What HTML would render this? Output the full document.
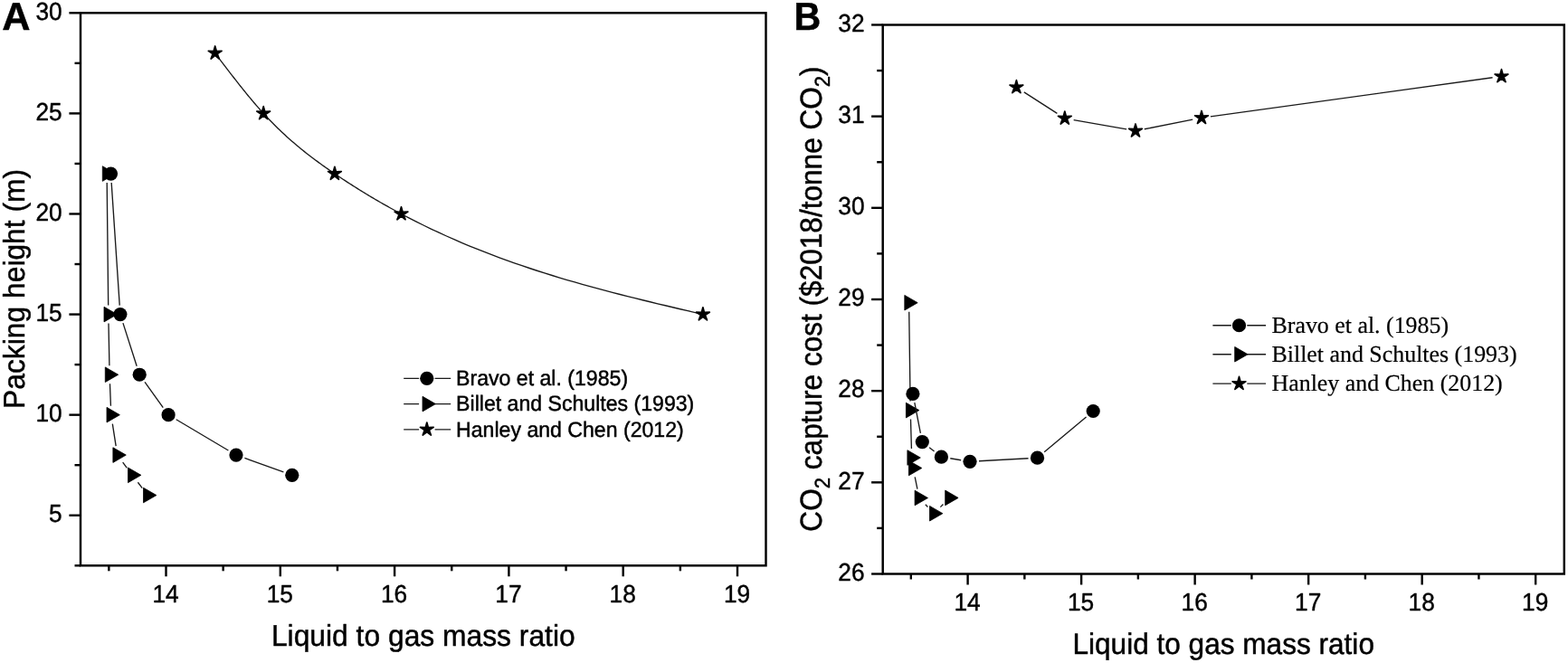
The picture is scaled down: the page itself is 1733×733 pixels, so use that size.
<!DOCTYPE html>
<html lang="en">
<head>
<meta charset="utf-8">
<title>Packing height and CO2 capture cost vs liquid to gas mass ratio</title>
<style>
html,body{margin:0;padding:0;background:#fff;}
body{width:1733px;height:733px;overflow:hidden;}
svg{display:block;}
text{text-rendering:geometricPrecision;fill:#000;stroke:#000;stroke-width:0.45;stroke-linejoin:round;}
text.lt{stroke-width:0.2;}
</style>
</head>
<body>
<svg width="1733" height="733" viewBox="0 0 1733 733">
<rect x="0" y="0" width="1733" height="733" fill="#ffffff"/>
<rect x="89.00" y="14.30" width="757.50" height="611.00" fill="none" stroke="#000" stroke-width="2.45"/>
<line x1="183.50" y1="625.30" x2="183.50" y2="637.30" stroke="#000" stroke-width="2.40"/>
<line x1="309.80" y1="625.30" x2="309.80" y2="637.30" stroke="#000" stroke-width="2.40"/>
<line x1="436.10" y1="625.30" x2="436.10" y2="637.30" stroke="#000" stroke-width="2.40"/>
<line x1="562.40" y1="625.30" x2="562.40" y2="637.30" stroke="#000" stroke-width="2.40"/>
<line x1="688.70" y1="625.30" x2="688.70" y2="637.30" stroke="#000" stroke-width="2.40"/>
<line x1="815.00" y1="625.30" x2="815.00" y2="637.30" stroke="#000" stroke-width="2.40"/>
<line x1="120.35" y1="625.30" x2="120.35" y2="631.30" stroke="#000" stroke-width="2.40"/>
<line x1="246.65" y1="625.30" x2="246.65" y2="631.30" stroke="#000" stroke-width="2.40"/>
<line x1="372.95" y1="625.30" x2="372.95" y2="631.30" stroke="#000" stroke-width="2.40"/>
<line x1="499.25" y1="625.30" x2="499.25" y2="631.30" stroke="#000" stroke-width="2.40"/>
<line x1="625.55" y1="625.30" x2="625.55" y2="631.30" stroke="#000" stroke-width="2.40"/>
<line x1="751.85" y1="625.30" x2="751.85" y2="631.30" stroke="#000" stroke-width="2.40"/>
<line x1="76.40" y1="569.75" x2="89.00" y2="569.75" stroke="#000" stroke-width="2.40"/>
<line x1="76.40" y1="458.66" x2="89.00" y2="458.66" stroke="#000" stroke-width="2.40"/>
<line x1="76.40" y1="347.57" x2="89.00" y2="347.57" stroke="#000" stroke-width="2.40"/>
<line x1="76.40" y1="236.48" x2="89.00" y2="236.48" stroke="#000" stroke-width="2.40"/>
<line x1="76.40" y1="125.39" x2="89.00" y2="125.39" stroke="#000" stroke-width="2.40"/>
<line x1="76.40" y1="14.30" x2="89.00" y2="14.30" stroke="#000" stroke-width="2.40"/>
<line x1="82.50" y1="625.30" x2="89.00" y2="625.30" stroke="#000" stroke-width="2.40"/>
<line x1="82.50" y1="514.21" x2="89.00" y2="514.21" stroke="#000" stroke-width="2.40"/>
<line x1="82.50" y1="403.12" x2="89.00" y2="403.12" stroke="#000" stroke-width="2.40"/>
<line x1="82.50" y1="292.03" x2="89.00" y2="292.03" stroke="#000" stroke-width="2.40"/>
<line x1="82.50" y1="180.94" x2="89.00" y2="180.94" stroke="#000" stroke-width="2.40"/>
<line x1="82.50" y1="69.85" x2="89.00" y2="69.85" stroke="#000" stroke-width="2.40"/>
<text x="0.00" y="0.00" font-size="27.50" text-anchor="middle" font-weight="normal" style="font-family:&quot;Liberation Sans&quot;, Arial, sans-serif"  transform="translate(183.00,665.60) scale(0.9550,1.0000)">14</text>
<text x="0.00" y="0.00" font-size="27.50" text-anchor="middle" font-weight="normal" style="font-family:&quot;Liberation Sans&quot;, Arial, sans-serif"  transform="translate(309.30,665.60) scale(0.9550,1.0000)">15</text>
<text x="0.00" y="0.00" font-size="27.50" text-anchor="middle" font-weight="normal" style="font-family:&quot;Liberation Sans&quot;, Arial, sans-serif"  transform="translate(435.60,665.60) scale(0.9550,1.0000)">16</text>
<text x="0.00" y="0.00" font-size="27.50" text-anchor="middle" font-weight="normal" style="font-family:&quot;Liberation Sans&quot;, Arial, sans-serif"  transform="translate(561.90,665.60) scale(0.9550,1.0000)">17</text>
<text x="0.00" y="0.00" font-size="27.50" text-anchor="middle" font-weight="normal" style="font-family:&quot;Liberation Sans&quot;, Arial, sans-serif"  transform="translate(688.20,665.60) scale(0.9550,1.0000)">18</text>
<text x="0.00" y="0.00" font-size="27.50" text-anchor="middle" font-weight="normal" style="font-family:&quot;Liberation Sans&quot;, Arial, sans-serif"  transform="translate(814.50,665.60) scale(0.9550,1.0000)">19</text>
<text x="0.00" y="0.00" font-size="27.50" text-anchor="end" font-weight="normal" style="font-family:&quot;Liberation Sans&quot;, Arial, sans-serif"  transform="translate(68.70,577.35) scale(0.9550,1.0000)">5</text>
<text x="0.00" y="0.00" font-size="27.50" text-anchor="end" font-weight="normal" style="font-family:&quot;Liberation Sans&quot;, Arial, sans-serif"  transform="translate(68.70,466.26) scale(0.9550,1.0000)">10</text>
<text x="0.00" y="0.00" font-size="27.50" text-anchor="end" font-weight="normal" style="font-family:&quot;Liberation Sans&quot;, Arial, sans-serif"  transform="translate(68.70,355.17) scale(0.9550,1.0000)">15</text>
<text x="0.00" y="0.00" font-size="27.50" text-anchor="end" font-weight="normal" style="font-family:&quot;Liberation Sans&quot;, Arial, sans-serif"  transform="translate(68.70,244.08) scale(0.9550,1.0000)">20</text>
<text x="0.00" y="0.00" font-size="27.50" text-anchor="end" font-weight="normal" style="font-family:&quot;Liberation Sans&quot;, Arial, sans-serif"  transform="translate(68.70,132.99) scale(0.9550,1.0000)">25</text>
<text x="0.00" y="0.00" font-size="27.50" text-anchor="end" font-weight="normal" style="font-family:&quot;Liberation Sans&quot;, Arial, sans-serif"  transform="translate(68.70,21.90) scale(0.9550,1.0000)">30</text>
<text x="0.00" y="0.00" font-size="31.80" text-anchor="middle" font-weight="normal" style="font-family:&quot;Liberation Sans&quot;, Arial, sans-serif"  transform="translate(467.80,714.10) scale(1.0000,1.0400)">Liquid to gas mass ratio</text>
<g transform="translate(27.00,319.40) rotate(-90) scale(1,1.040)">
<text x="0.00" y="0.00" font-size="31.80" text-anchor="middle" font-weight="normal" style="font-family:&quot;Liberation Sans&quot;, Arial, sans-serif" >Packing height (m)</text>
</g>
<text x="2.20" y="32.90" font-size="43.30" text-anchor="start" font-weight="bold" style="font-family:&quot;Liberation Sans&quot;, Arial, sans-serif" >A</text>
<path d="M118.21 202.04L119.69 337.57M119.99 357.57L120.91 404.23M121.48 424.22L122.42 448.67M124.33 468.55L128.17 493.22M135.69 511.11L140.31 517.31M152.38 533.26L157.22 539.59" fill="none" stroke="#1a1a1a" stroke-width="1.35"/>
<g fill="#000"><polygon points="113.30,183.74 113.30,200.35 127.69,192.05" stroke="#000" stroke-width="0.80" stroke-linejoin="round"/><polygon points="115.00,339.27 115.00,355.88 129.39,347.57" stroke="#000" stroke-width="0.80" stroke-linejoin="round"/><polygon points="116.30,405.92 116.30,422.53 130.69,414.23" stroke="#000" stroke-width="0.80" stroke-linejoin="round"/><polygon points="118.00,450.36 118.00,466.97 132.39,458.66" stroke="#000" stroke-width="0.80" stroke-linejoin="round"/><polygon points="124.90,494.79 124.90,511.41 139.29,503.10" stroke="#000" stroke-width="0.80" stroke-linejoin="round"/><polygon points="141.50,517.01 141.50,533.63 155.89,525.32" stroke="#000" stroke-width="0.80" stroke-linejoin="round"/><polygon points="158.50,539.23 158.50,555.84 172.89,547.54" stroke="#000" stroke-width="0.80" stroke-linejoin="round"/></g>
<path d="M123.17 202.02L132.23 337.60M135.94 357.10L151.16 404.70M160.03 422.35L180.27 450.54M194.70 463.77L252.40 498.00M270.41 506.48L313.39 521.94" fill="none" stroke="#1a1a1a" stroke-width="1.35"/>
<g fill="#000"><circle cx="122.50" cy="192.05" r="7.60"/><circle cx="132.90" cy="347.57" r="7.60"/><circle cx="154.20" cy="414.23" r="7.60"/><circle cx="186.10" cy="458.66" r="7.60"/><circle cx="261.00" cy="503.10" r="7.60"/><circle cx="322.80" cy="525.32" r="7.60"/></g>
<path d="M237.70 58.74L239.04 60.50L240.38 62.27L241.71 64.03L243.05 65.80L244.39 67.56L245.72 69.32L247.06 71.08L248.40 72.84L249.74 74.59L251.07 76.34L252.41 78.09L253.75 79.83L255.09 81.56L256.43 83.30L257.76 85.02L259.10 86.74L260.44 88.46L261.77 90.17L263.11 91.87L264.45 93.57L265.79 95.25L267.12 96.93L268.46 98.61L269.80 100.27L271.14 101.92L272.47 103.57L273.81 105.20L275.15 106.83L276.49 108.44L277.82 110.04L279.16 111.63L280.50 113.21L281.84 114.78L283.18 116.34L284.51 117.88L285.85 119.41L287.19 120.93L288.52 122.43L289.86 123.92L291.20 125.39L293.17 127.53L295.13 129.64L297.10 131.72L299.07 133.76L301.04 135.78L303.00 137.77L304.97 139.72L306.94 141.65L308.91 143.55L310.88 145.43L312.84 147.28L314.81 149.10L316.78 150.90L318.75 152.67L320.71 154.42L322.68 156.14L324.65 157.84L326.62 159.52L328.58 161.18L330.55 162.82L332.52 164.43L334.48 166.03L336.45 167.61L338.42 169.16L340.39 170.70L342.35 172.23L344.32 173.73L346.29 175.22L348.26 176.70L350.22 178.15L352.19 179.60L354.16 181.03L356.13 182.45L358.09 183.85L360.06 185.24L362.03 186.62L364.00 187.99L365.96 189.35L367.93 190.70L369.90 192.05L371.74 193.29L373.58 194.53L375.42 195.76L377.26 196.99L379.10 198.20L380.94 199.41L382.78 200.62L384.62 201.81L386.46 203.00L388.30 204.18L390.14 205.36L391.98 206.52L393.82 207.68L395.66 208.84L397.50 209.98L399.34 211.12L401.18 212.26L403.02 213.38L404.86 214.50L406.70 215.61L408.54 216.72L410.38 217.82L412.22 218.91L414.06 219.99L415.90 221.07L417.74 222.14L419.58 223.21L421.42 224.27L423.26 225.32L425.10 226.37L426.94 227.41L428.78 228.44L430.62 229.47L432.46 230.49L434.30 231.50L436.14 232.51L437.98 233.51L439.82 234.51L441.66 235.50L443.50 236.48L451.83 240.86L460.17 245.12L468.50 249.26L476.84 253.28L485.18 257.19L493.51 261.00L501.84 264.69L510.18 268.29L518.51 271.78L526.85 275.18L535.18 278.48L543.52 281.69L551.86 284.82L560.19 287.86L568.52 290.82L576.86 293.70L585.19 296.51L593.53 299.24L601.87 301.91L610.20 304.51L618.53 307.05L626.87 309.53L635.20 311.95L643.54 314.32L651.88 316.64L660.21 318.91L668.54 321.14L676.88 323.33L685.21 325.48L693.55 327.60L701.88 329.69L710.22 331.75L718.55 333.78L726.89 335.79L735.23 337.78L743.56 339.76L751.89 341.72L760.23 343.68L768.56 345.63L776.90 347.57" fill="none" stroke="#1a1a1a" stroke-width="1.35"/>
<g fill="#000"><polygon points="237.70,50.99 239.27,56.57 245.07,56.34 240.24,59.56 242.26,65.01 237.70,61.41 233.14,65.01 235.16,59.56 230.33,56.34 236.13,56.57" stroke="#000" stroke-width="1.70" stroke-linejoin="round"/><polygon points="291.20,117.64 292.77,123.23 298.57,123.00 293.74,126.22 295.76,131.66 291.20,128.06 286.64,131.66 288.66,126.22 283.83,123.00 289.63,123.23" stroke="#000" stroke-width="1.70" stroke-linejoin="round"/><polygon points="369.90,184.30 371.47,189.88 377.27,189.65 372.44,192.87 374.46,198.32 369.90,194.72 365.34,198.32 367.36,192.87 362.53,189.65 368.33,189.88" stroke="#000" stroke-width="1.70" stroke-linejoin="round"/><polygon points="443.50,228.73 445.07,234.32 450.87,234.09 446.04,237.31 448.06,242.75 443.50,239.16 438.94,242.75 440.96,237.31 436.13,234.09 441.93,234.32" stroke="#000" stroke-width="1.70" stroke-linejoin="round"/><polygon points="776.90,339.82 778.47,345.41 784.27,345.18 779.44,348.40 781.46,353.84 776.90,350.25 772.34,353.84 774.36,348.40 769.53,345.18 775.33,345.41" stroke="#000" stroke-width="1.70" stroke-linejoin="round"/></g>
<path d="M446.20 418.30H463.10M480.60 418.30H498.20" fill="none" stroke="#1a1a1a" stroke-width="1.35"/>
<g fill="#000"><circle cx="471.80" cy="418.30" r="7.60"/></g>
<text x="0.00" y="0.00" font-size="23.10" text-anchor="start" font-weight="normal" style="font-family:&quot;Liberation Sans&quot;, Arial, sans-serif"  transform="translate(504.10,426.00) scale(1.0000,1.0300)">Bravo et al. (1985)</text>
<path d="M446.20 446.60H463.10M480.60 446.60H498.20" fill="none" stroke="#1a1a1a" stroke-width="1.35"/>
<g fill="#000"><polygon points="467.00,438.29 467.00,454.91 481.39,446.60" stroke="#000" stroke-width="0.80" stroke-linejoin="round"/></g>
<text x="0.00" y="0.00" font-size="23.10" text-anchor="start" font-weight="normal" style="font-family:&quot;Liberation Sans&quot;, Arial, sans-serif"  transform="translate(504.10,454.00) scale(1.0000,1.0300)">Billet and Schultes (1993)</text>
<path d="M446.20 474.80H463.10M480.60 474.80H498.20" fill="none" stroke="#1a1a1a" stroke-width="1.35"/>
<g fill="#000"><polygon points="471.80,467.05 473.37,472.64 479.17,472.41 474.34,475.63 476.36,481.07 471.80,477.47 467.24,481.07 469.26,475.63 464.43,472.41 470.23,472.64" stroke="#000" stroke-width="1.70" stroke-linejoin="round"/></g>
<text x="0.00" y="0.00" font-size="23.10" text-anchor="start" font-weight="normal" style="font-family:&quot;Liberation Sans&quot;, Arial, sans-serif"  transform="translate(504.10,483.00) scale(1.0000,1.0300)">Hanley and Chen (2012)</text>
<rect x="975.70" y="27.50" width="753.10" height="607.00" fill="none" stroke="#000" stroke-width="2.45"/>
<line x1="1069.59" y1="634.50" x2="1069.59" y2="646.50" stroke="#000" stroke-width="2.40"/>
<line x1="1195.11" y1="634.50" x2="1195.11" y2="646.50" stroke="#000" stroke-width="2.40"/>
<line x1="1320.63" y1="634.50" x2="1320.63" y2="646.50" stroke="#000" stroke-width="2.40"/>
<line x1="1446.15" y1="634.50" x2="1446.15" y2="646.50" stroke="#000" stroke-width="2.40"/>
<line x1="1571.67" y1="634.50" x2="1571.67" y2="646.50" stroke="#000" stroke-width="2.40"/>
<line x1="1697.19" y1="634.50" x2="1697.19" y2="646.50" stroke="#000" stroke-width="2.40"/>
<line x1="1006.83" y1="634.50" x2="1006.83" y2="640.50" stroke="#000" stroke-width="2.40"/>
<line x1="1132.35" y1="634.50" x2="1132.35" y2="640.50" stroke="#000" stroke-width="2.40"/>
<line x1="1257.87" y1="634.50" x2="1257.87" y2="640.50" stroke="#000" stroke-width="2.40"/>
<line x1="1383.39" y1="634.50" x2="1383.39" y2="640.50" stroke="#000" stroke-width="2.40"/>
<line x1="1508.91" y1="634.50" x2="1508.91" y2="640.50" stroke="#000" stroke-width="2.40"/>
<line x1="1634.43" y1="634.50" x2="1634.43" y2="640.50" stroke="#000" stroke-width="2.40"/>
<line x1="963.10" y1="634.50" x2="975.70" y2="634.50" stroke="#000" stroke-width="2.40"/>
<line x1="963.10" y1="533.33" x2="975.70" y2="533.33" stroke="#000" stroke-width="2.40"/>
<line x1="963.10" y1="432.16" x2="975.70" y2="432.16" stroke="#000" stroke-width="2.40"/>
<line x1="963.10" y1="330.99" x2="975.70" y2="330.99" stroke="#000" stroke-width="2.40"/>
<line x1="963.10" y1="229.82" x2="975.70" y2="229.82" stroke="#000" stroke-width="2.40"/>
<line x1="963.10" y1="128.65" x2="975.70" y2="128.65" stroke="#000" stroke-width="2.40"/>
<line x1="963.10" y1="27.48" x2="975.70" y2="27.48" stroke="#000" stroke-width="2.40"/>
<line x1="969.20" y1="583.91" x2="975.70" y2="583.91" stroke="#000" stroke-width="2.40"/>
<line x1="969.20" y1="482.75" x2="975.70" y2="482.75" stroke="#000" stroke-width="2.40"/>
<line x1="969.20" y1="381.57" x2="975.70" y2="381.57" stroke="#000" stroke-width="2.40"/>
<line x1="969.20" y1="280.40" x2="975.70" y2="280.40" stroke="#000" stroke-width="2.40"/>
<line x1="969.20" y1="179.24" x2="975.70" y2="179.24" stroke="#000" stroke-width="2.40"/>
<line x1="969.20" y1="78.06" x2="975.70" y2="78.06" stroke="#000" stroke-width="2.40"/>
<text x="0.00" y="0.00" font-size="27.50" text-anchor="middle" font-weight="normal" style="font-family:&quot;Liberation Sans&quot;, Arial, sans-serif"  transform="translate(1069.09,675.00) scale(0.9550,1.0000)">14</text>
<text x="0.00" y="0.00" font-size="27.50" text-anchor="middle" font-weight="normal" style="font-family:&quot;Liberation Sans&quot;, Arial, sans-serif"  transform="translate(1194.61,675.00) scale(0.9550,1.0000)">15</text>
<text x="0.00" y="0.00" font-size="27.50" text-anchor="middle" font-weight="normal" style="font-family:&quot;Liberation Sans&quot;, Arial, sans-serif"  transform="translate(1320.13,675.00) scale(0.9550,1.0000)">16</text>
<text x="0.00" y="0.00" font-size="27.50" text-anchor="middle" font-weight="normal" style="font-family:&quot;Liberation Sans&quot;, Arial, sans-serif"  transform="translate(1445.65,675.00) scale(0.9550,1.0000)">17</text>
<text x="0.00" y="0.00" font-size="27.50" text-anchor="middle" font-weight="normal" style="font-family:&quot;Liberation Sans&quot;, Arial, sans-serif"  transform="translate(1571.17,675.00) scale(0.9550,1.0000)">18</text>
<text x="0.00" y="0.00" font-size="27.50" text-anchor="middle" font-weight="normal" style="font-family:&quot;Liberation Sans&quot;, Arial, sans-serif"  transform="translate(1696.69,675.00) scale(0.9550,1.0000)">19</text>
<text x="0.00" y="0.00" font-size="27.50" text-anchor="end" font-weight="normal" style="font-family:&quot;Liberation Sans&quot;, Arial, sans-serif"  transform="translate(955.50,641.80) scale(0.9550,1.0000)">26</text>
<text x="0.00" y="0.00" font-size="27.50" text-anchor="end" font-weight="normal" style="font-family:&quot;Liberation Sans&quot;, Arial, sans-serif"  transform="translate(955.50,540.63) scale(0.9550,1.0000)">27</text>
<text x="0.00" y="0.00" font-size="27.50" text-anchor="end" font-weight="normal" style="font-family:&quot;Liberation Sans&quot;, Arial, sans-serif"  transform="translate(955.50,439.46) scale(0.9550,1.0000)">28</text>
<text x="0.00" y="0.00" font-size="27.50" text-anchor="end" font-weight="normal" style="font-family:&quot;Liberation Sans&quot;, Arial, sans-serif"  transform="translate(955.50,338.29) scale(0.9550,1.0000)">29</text>
<text x="0.00" y="0.00" font-size="27.50" text-anchor="end" font-weight="normal" style="font-family:&quot;Liberation Sans&quot;, Arial, sans-serif"  transform="translate(955.50,237.12) scale(0.9550,1.0000)">30</text>
<text x="0.00" y="0.00" font-size="27.50" text-anchor="end" font-weight="normal" style="font-family:&quot;Liberation Sans&quot;, Arial, sans-serif"  transform="translate(955.50,135.95) scale(0.9550,1.0000)">31</text>
<text x="0.00" y="0.00" font-size="27.50" text-anchor="end" font-weight="normal" style="font-family:&quot;Liberation Sans&quot;, Arial, sans-serif"  transform="translate(955.50,34.78) scale(0.9550,1.0000)">32</text>
<text x="0.00" y="0.00" font-size="31.59" text-anchor="middle" font-weight="normal" style="font-family:&quot;Liberation Sans&quot;, Arial, sans-serif"  transform="translate(1352.20,723.30) scale(1.0000,1.0400)">Liquid to gas mass ratio</text>
<g transform="translate(908.30,330.50) rotate(-90) scale(1,1.065)">
<text x="0" y="0" font-size="31.59" text-anchor="middle" style="font-family:&quot;Liberation Sans&quot;, Arial, sans-serif">CO<tspan font-size="22.11" dy="7.80">2</tspan><tspan dy="-7.80"> capture cost ($2018/tonne CO</tspan><tspan font-size="22.11" dy="7.80">2</tspan><tspan dy="-7.80">)</tspan></text>
</g>
<text x="0.00" y="0.00" font-size="43.30" text-anchor="start" font-weight="bold" style="font-family:&quot;Liberation Sans&quot;, Arial, sans-serif"  transform="translate(877.50,33.30) scale(0.9500,1.0000)">B</text>
<path d="M1004.73 344.70L1006.07 443.60M1006.49 463.60L1007.41 496.00M1011.19 527.30L1013.91 540.70M1022.80 557.74L1025.40 560.46M1039.35 560.61L1042.45 557.49" fill="none" stroke="#1a1a1a" stroke-width="1.35"/>
<g fill="#000"><polygon points="999.80,326.39 999.80,343.01 1014.19,334.70" stroke="#000" stroke-width="0.80" stroke-linejoin="round"/><polygon points="1001.40,445.29 1001.40,461.91 1015.79,453.60" stroke="#000" stroke-width="0.80" stroke-linejoin="round"/><polygon points="1002.90,497.69 1002.90,514.31 1017.29,506.00" stroke="#000" stroke-width="0.80" stroke-linejoin="round"/><polygon points="1004.40,509.19 1004.40,525.81 1018.79,517.50" stroke="#000" stroke-width="0.80" stroke-linejoin="round"/><polygon points="1011.10,542.19 1011.10,558.81 1025.49,550.50" stroke="#000" stroke-width="0.80" stroke-linejoin="round"/><polygon points="1027.50,559.39 1027.50,576.01 1041.89,567.70" stroke="#000" stroke-width="0.80" stroke-linejoin="round"/><polygon points="1044.70,542.09 1044.70,558.71 1059.09,550.40" stroke="#000" stroke-width="0.80" stroke-linejoin="round"/></g>
<path d="M1010.82 445.21L1017.38 478.79M1027.16 494.78L1032.54 499.02M1050.27 506.79L1062.13 508.71M1081.98 509.75L1136.52 506.75M1154.16 499.78L1200.54 460.92" fill="none" stroke="#1a1a1a" stroke-width="1.35"/>
<g fill="#000"><circle cx="1008.90" cy="435.40" r="7.60"/><circle cx="1019.30" cy="488.60" r="7.60"/><circle cx="1040.40" cy="505.20" r="7.60"/><circle cx="1072.00" cy="510.30" r="7.60"/><circle cx="1146.50" cy="506.20" r="7.60"/><circle cx="1208.20" cy="454.50" r="7.60"/></g>
<path d="M1131.81 101.82L1168.39 125.38M1186.65 132.55L1245.15 142.95M1264.81 142.75L1318.19 132.15M1337.91 128.83L1649.59 85.77" fill="none" stroke="#1a1a1a" stroke-width="1.35"/>
<g fill="#000"><polygon points="1123.40,88.65 1124.97,94.24 1130.77,94.01 1125.94,97.23 1127.96,102.67 1123.40,99.07 1118.84,102.67 1120.86,97.23 1116.03,94.01 1121.83,94.24" stroke="#000" stroke-width="1.70" stroke-linejoin="round"/><polygon points="1176.80,123.05 1178.37,128.64 1184.17,128.41 1179.34,131.63 1181.36,137.07 1176.80,133.47 1172.24,137.07 1174.26,131.63 1169.43,128.41 1175.23,128.64" stroke="#000" stroke-width="1.70" stroke-linejoin="round"/><polygon points="1255.00,136.95 1256.57,142.54 1262.37,142.31 1257.54,145.53 1259.56,150.97 1255.00,147.37 1250.44,150.97 1252.46,145.53 1247.63,142.31 1253.43,142.54" stroke="#000" stroke-width="1.70" stroke-linejoin="round"/><polygon points="1328.00,122.45 1329.57,128.04 1335.37,127.81 1330.54,131.03 1332.56,136.47 1328.00,132.87 1323.44,136.47 1325.46,131.03 1320.63,127.81 1326.43,128.04" stroke="#000" stroke-width="1.70" stroke-linejoin="round"/><polygon points="1659.50,76.65 1661.07,82.24 1666.87,82.01 1662.04,85.23 1664.06,90.67 1659.50,87.07 1654.94,90.67 1656.96,85.23 1652.13,82.01 1657.93,82.24" stroke="#000" stroke-width="1.70" stroke-linejoin="round"/></g>
<path d="M1340.40 359.75H1360.80M1378.30 359.75H1399.10" fill="none" stroke="#1a1a1a" stroke-width="1.35"/>
<g fill="#000"><circle cx="1369.50" cy="359.75" r="7.60"/></g>
<text x="1405.50" y="368.15" font-size="25.90" text-anchor="start" font-weight="normal" style="font-family:&quot;Liberation Serif&quot;, &quot;Times New Roman&quot;, serif"  class="lt">Bravo et al. (1985)</text>
<path d="M1340.40 391.75H1360.80M1378.30 391.75H1399.10" fill="none" stroke="#1a1a1a" stroke-width="1.35"/>
<g fill="#000"><polygon points="1364.70,383.44 1364.70,400.06 1379.09,391.75" stroke="#000" stroke-width="0.80" stroke-linejoin="round"/></g>
<text x="1405.50" y="400.15" font-size="25.90" text-anchor="start" font-weight="normal" style="font-family:&quot;Liberation Serif&quot;, &quot;Times New Roman&quot;, serif"  class="lt">Billet and Schultes (1993)</text>
<path d="M1340.40 424.15H1360.80M1378.30 424.15H1399.10" fill="none" stroke="#1a1a1a" stroke-width="1.35"/>
<g fill="#000"><polygon points="1369.50,416.40 1371.07,421.99 1376.87,421.76 1372.04,424.98 1374.06,430.42 1369.50,426.82 1364.94,430.42 1366.96,424.98 1362.13,421.76 1367.93,421.99" stroke="#000" stroke-width="1.70" stroke-linejoin="round"/></g>
<text x="1405.50" y="432.35" font-size="25.90" text-anchor="start" font-weight="normal" style="font-family:&quot;Liberation Serif&quot;, &quot;Times New Roman&quot;, serif"  class="lt">Hanley and Chen (2012)</text>
</svg>
</body>
</html>
